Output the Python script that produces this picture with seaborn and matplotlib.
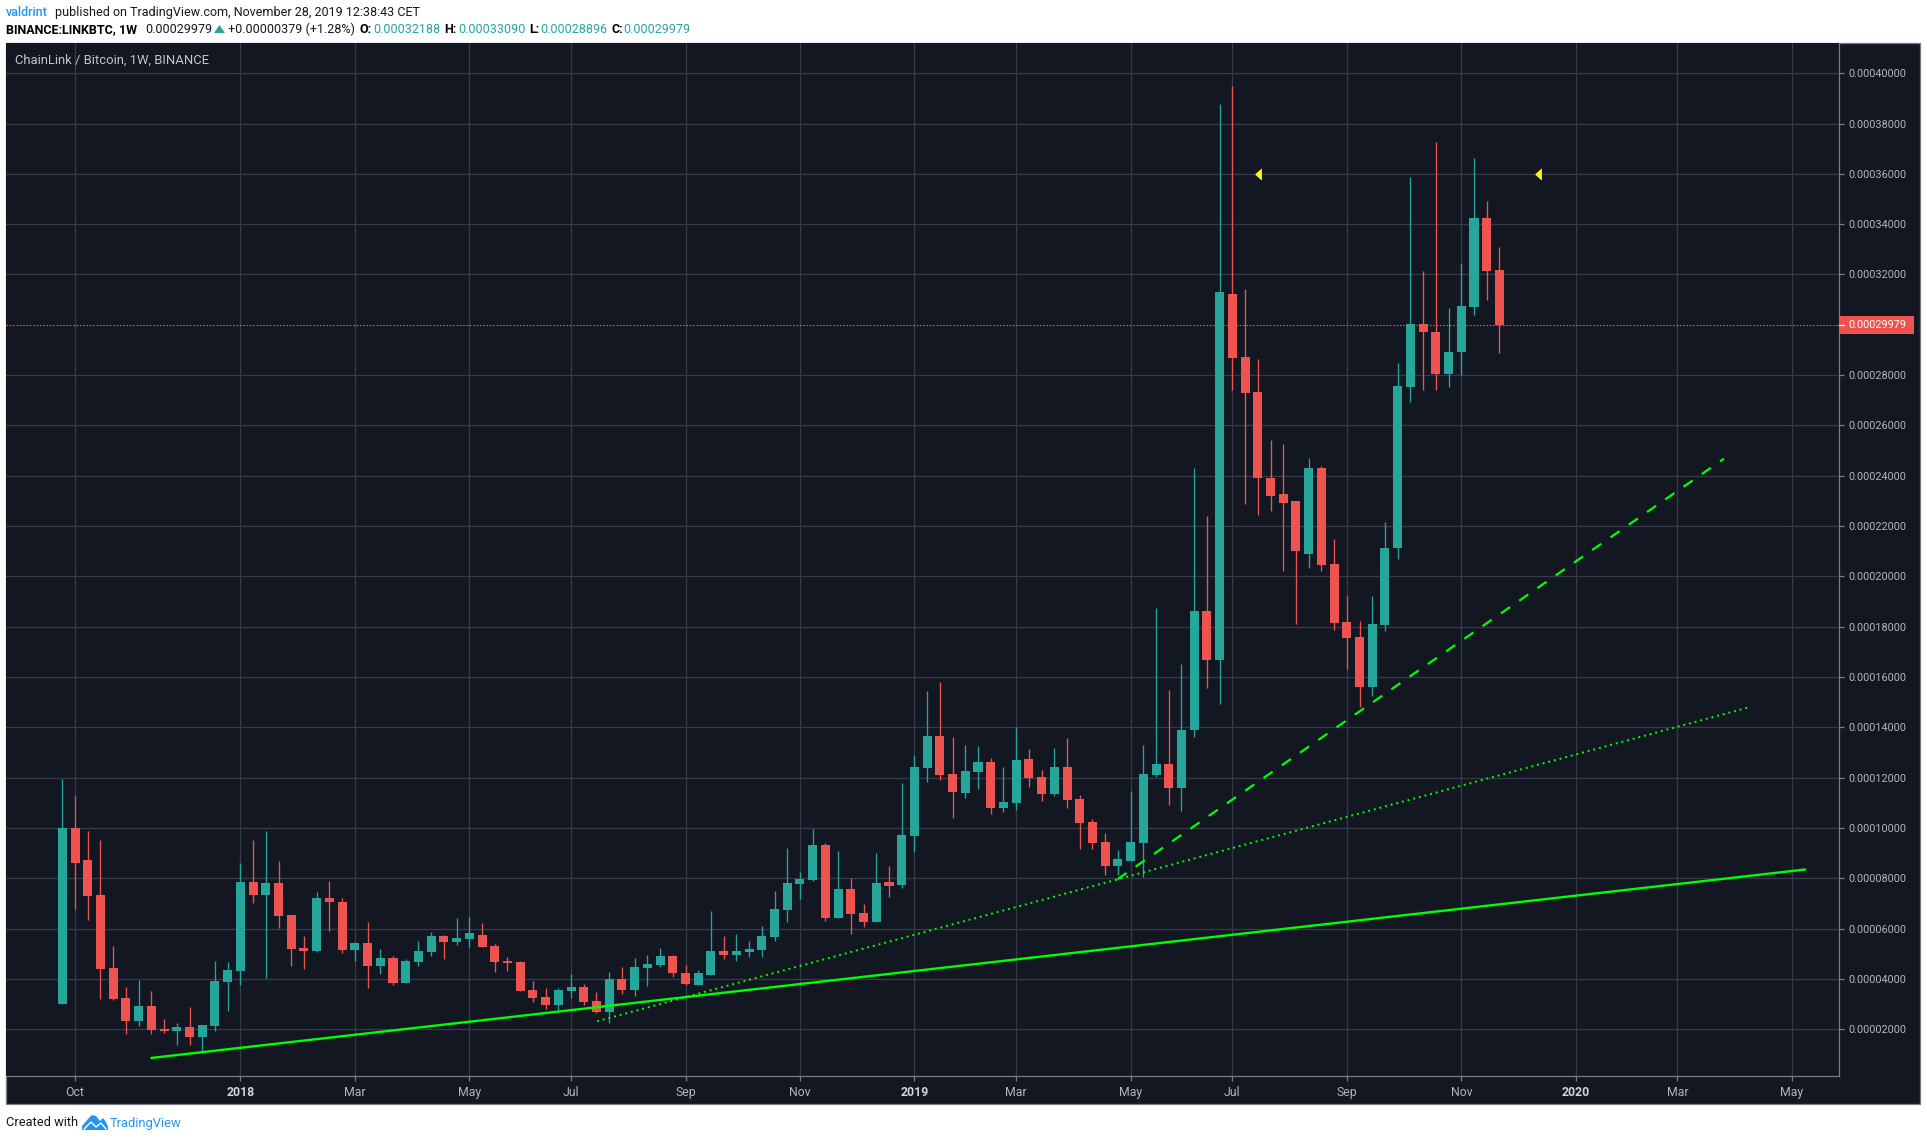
#!/usr/bin/env python3
import matplotlib
matplotlib.use('Agg')
import matplotlib.pyplot as plt
import numpy as np
import pandas as pd
import seaborn as sns
from matplotlib.lines import Line2D
from matplotlib.patches import Polygon, Rectangle

WIDTH, HEIGHT = 1927, 1141
BG = '#131722'
GRID = '#363a49'
BORDER = '#787b86'
TEXT = '#b2b5be'
UP = '#26a69a'
DOWN = '#ef5350'
TREND = '#00ff00'
BLUE = '#2196f3'
PRICE_UNIT = 1e-5  # the arrays below are in units of 0.00001 BTC

# weekly candles, first one is the week of 25 Sep 2017
opens = [2.99, 9.99, 8.71, 7.32, 4.42, 3.23, 2.31, 2.91, 2.00, 1.92, 2.08, 1.68, 2.12, 3.86, 4.30, 7.84, 7.32, 7.80, 6.53,
         5.22, 5.10, 7.20, 7.04, 5.14, 5.41, 4.50, 4.82, 3.82, 4.66, 5.06, 5.69, 5.45, 5.57, 5.76, 5.32, 4.73, 4.69, 3.57,
         3.30, 2.98, 3.53, 3.69, 3.14, 2.70, 4.01, 3.57, 4.45, 4.57, 4.93, 4.25, 3.77, 4.17, 5.12, 4.96, 5.08, 5.16, 5.68,
         6.75, 7.79, 7.95, 9.34, 6.44, 7.59, 6.63, 6.28, 7.87, 7.73, 9.69, 12.40, 13.67, 12.16, 11.40, 12.24, 12.63, 10.81,
         11.00, 12.75, 12.04, 11.36, 12.44, 11.16, 10.25, 9.45, 8.50, 8.70, 9.41, 12.12, 12.56, 11.60, 13.91, 18.61, 16.66,
         31.23, 28.72, 27.33, 23.91, 23.27, 22.98, 20.89, 24.30, 20.49, 18.18, 17.59, 15.60, 18.06, 21.12, 27.53, 30.04,
         29.72, 28.05, 28.92, 30.71, 34.25, 32.188]
highs = [11.96, 11.26, 9.87, 9.51, 5.30, 3.67, 3.94, 3.51, 2.39, 2.23, 2.87, 2.16, 4.70, 4.66, 8.59, 9.51, 9.87, 8.67, 6.53,
         5.69, 7.44, 7.88, 7.20, 5.45, 6.25, 5.18, 4.90, 4.78, 5.49, 5.85, 5.73, 6.41, 6.45, 6.24, 5.40, 4.89, 4.73, 3.93,
         3.65, 3.65, 4.21, 3.81, 3.49, 4.29, 4.49, 4.85, 4.96, 5.24, 4.96, 4.57, 4.37, 6.71, 5.72, 5.80, 5.52, 6.12, 7.51,
         9.22, 8.26, 9.97, 9.42, 9.10, 8.03, 6.99, 9.02, 8.50, 11.78, 12.91, 15.46, 15.81, 13.63, 13.31, 13.27, 12.79, 12.44,
         14.03, 13.15, 12.32, 13.19, 13.59, 11.32, 10.37, 9.81, 9.14, 11.48, 13.31, 18.73, 15.50, 16.53, 24.29, 22.42, 38.78,
         39.50, 31.43, 28.65, 25.42, 25.26, 22.98, 24.70, 24.38, 21.48, 19.22, 18.22, 19.22, 22.16, 28.49, 35.88, 32.14,
         37.27, 30.67, 32.46, 36.63, 34.93, 33.09]
lows = [2.99, 6.77, 6.33, 3.19, 3.15, 1.80, 2.12, 1.80, 1.84, 1.36, 1.36, 1.04, 1.92, 2.71, 3.75, 7.00, 4.02, 6.01, 4.50,
        4.38, 5.06, 5.89, 5.02, 4.70, 3.63, 4.18, 3.75, 3.82, 4.50, 4.90, 4.78, 5.34, 5.26, 5.28, 4.29, 4.33, 3.53, 3.10,
        2.82, 2.74, 3.26, 2.98, 2.66, 2.26, 3.41, 3.34, 3.73, 4.49, 4.09, 3.77, 3.77, 4.17, 4.81, 4.73, 4.89, 4.89, 5.52,
        6.28, 7.19, 7.91, 6.32, 6.44, 5.80, 6.08, 6.28, 7.27, 7.61, 9.06, 11.84, 11.92, 10.41, 11.20, 11.56, 10.57, 10.65,
        10.73, 11.64, 11.08, 11.28, 10.81, 9.18, 9.18, 8.14, 8.14, 8.70, 8.06, 12.04, 10.93, 10.69, 13.63, 15.55, 14.91,
        27.41, 22.86, 22.46, 22.60, 20.21, 18.09, 20.33, 20.21, 17.86, 16.31, 14.80, 15.24, 17.82, 20.69, 26.94, 27.41,
        27.41, 27.53, 28.01, 30.39, 30.99, 28.896]
closes = [9.99, 8.59, 7.28, 4.38, 3.19, 2.31, 2.91, 1.96, 1.92, 2.08, 1.68, 2.16, 3.90, 4.34, 7.84, 7.32, 7.80, 6.49, 5.18,
          5.10, 7.20, 7.04, 5.14, 5.41, 4.50, 4.82, 3.82, 4.70, 5.10, 5.69, 5.45, 5.61, 5.81, 5.28, 4.69, 4.65, 3.53, 3.26,
          2.98, 3.57, 3.69, 3.10, 2.70, 4.01, 3.57, 4.49, 4.61, 4.93, 4.25, 3.81, 4.25, 5.12, 4.96, 5.12, 5.20, 5.72, 6.79,
          7.83, 7.99, 9.34, 6.44, 7.59, 6.59, 6.28, 7.83, 7.71, 9.72, 12.44, 13.67, 12.12, 11.44, 12.28, 12.63, 10.81, 11.04,
          12.71, 12.00, 11.36, 12.44, 11.12, 10.21, 9.41, 8.50, 8.78, 9.45, 12.16, 12.56, 11.60, 13.91, 18.61, 16.66, 31.31,
          28.68, 27.29, 23.93, 23.19, 22.91, 20.99, 24.30, 20.45, 18.14, 17.55, 15.60, 18.10, 21.12, 27.57, 30.04, 29.72,
          28.05, 28.92, 30.75, 34.25, 32.14, 29.979]

# trend lines: (week, price) pairs at both ends
solid_weeks, solid_prices = [7.0, 137.04], [0.86, 8.35]
dotted_weeks, dotted_prices = [42.05, 132.7], [2.32, 14.81]
dashed_weeks, dashed_prices = [82.96, 130.66], [7.96, 24.68]
marker_weeks, marker_prices = [94.0, 116.04], [36.0, 36.0]

x_tick_weeks = [1, 14, 23, 32, 40, 49, 58, 67, 75, 84, 92, 101, 110, 119, 127, 136]
x_tick_labels = ['Oct', '2018', 'Mar', 'May', 'Jul', 'Sep', 'Nov', '2019', 'Mar', 'May', 'Jul', 'Sep', 'Nov', '2020',
                 'Mar', 'May']
y_tick_values = [2, 4, 6, 8, 10, 12, 14, 16, 18, 20, 22, 24, 26, 28, 32, 34, 36, 38, 40]
last_close = 29.979


def px_text(px, py, text, **kwargs):
    kwargs.setdefault('va', 'center')
    fig.text(px / WIDTH, 1 - py / HEIGHT, text, **kwargs)


sns.set_theme(style='dark', rc={'axes.facecolor': BG})
plt.rcParams['font.family'] = ['Roboto', 'DejaVu Sans']

fig = plt.figure(figsize=(WIDTH / 100, HEIGHT / 100), dpi=100, facecolor='white')

# outer frame which also holds the price and time scales
fig.add_artist(Rectangle((6 / WIDTH, 1 - 1104 / HEIGHT), 1914 / WIDTH, 1061 / HEIGHT, transform=fig.transFigure,
                         facecolor=BG, edgecolor=BORDER, linewidth=0.9, zorder=-1))
ax = fig.add_axes([6 / WIDTH, 1 - 1076 / HEIGHT, 1833 / WIDTH, 1033 / HEIGHT])

candles = pd.DataFrame({'week': np.arange(len(opens)), 'open': opens, 'high': highs, 'low': lows, 'close': closes})
candles[['open', 'high', 'low', 'close']] *= PRICE_UNIT
candles['body'] = (candles['close'] - candles['open']).abs()
candles['bottom'] = candles[['open', 'close']].min(axis=1)
rising = candles[candles['close'] >= candles['open']]
falling = candles[candles['close'] < candles['open']]

wick_colors = [UP if c >= o else DOWN for o, c in zip(opens, closes)]
ax.vlines(candles['week'], candles['low'], candles['high'], colors=wick_colors, linewidth=0.95)
for part, color in ((rising, UP), (falling, DOWN)):
    sns.barplot(data=part, x='week', y='body', bottom=part['bottom'].values, color=color, native_scale=True,
                width=0.71, saturation=1, errorbar=None, linewidth=0, ax=ax)

# last price line and its tag on the scale
ax.axhline(last_close * PRICE_UNIT, color=DOWN, linewidth=0.8, linestyle=(0, (1.5, 1.5)), zorder=3)
ax.add_patch(Rectangle((1.0, (last_close - 0.352) * PRICE_UNIT), 0.0409, 0.704 * PRICE_UNIT, facecolor=DOWN,
                       linewidth=0, transform=ax.get_yaxis_transform(), clip_on=False, zorder=4))
ax.text(1.0051, last_close * PRICE_UNIT, f'{last_close * PRICE_UNIT:.8f}', color='white', fontsize=7.8, va='center',
        transform=ax.get_yaxis_transform(), clip_on=False, zorder=5)
ax.add_artist(Line2D([1.0, 1.0027], [last_close * PRICE_UNIT] * 2, color='white', linewidth=0.9,
                     transform=ax.get_yaxis_transform(), clip_on=False, zorder=5))

sns.lineplot(x=solid_weeks, y=np.array(solid_prices) * PRICE_UNIT, color=TREND, linewidth=1.7, errorbar=None, ax=ax,
             zorder=6)
sns.lineplot(x=dotted_weeks, y=np.array(dotted_prices) * PRICE_UNIT, color=TREND, linewidth=1.4,
             linestyle=(0, (1, 2)), errorbar=None, ax=ax, zorder=6)
sns.lineplot(x=dashed_weeks, y=np.array(dashed_prices) * PRICE_UNIT, color=TREND, linewidth=1.6,
             linestyle=(0, (5, 5)), errorbar=None, ax=ax, zorder=6)
sns.scatterplot(x=marker_weeks, y=np.array(marker_prices) * PRICE_UNIT, color='#ffff00', s=78, linewidth=0,
                marker=[(-0.55, 0), (0.55, 1), (0.55, -1)], ax=ax, zorder=6)

ax.set_xlim(-4.43, 139.7)
ax.set_ylim(0.143 * PRICE_UNIT, 41.2 * PRICE_UNIT)
ax.set_xlabel('')
ax.set_ylabel('')
ax.set_xticks(x_tick_weeks)
ax.set_xticklabels(x_tick_labels)
ax.set_yticks([v * PRICE_UNIT for v in y_tick_values])
ax.set_yticklabels([f'{v * PRICE_UNIT:.8f}' for v in y_tick_values])
ax.yaxis.tick_right()
ax.grid(True, color=GRID, linewidth=0.95)
ax.set_axisbelow(True)
ax.tick_params(axis='both', length=3.8, width=0.9, color=BORDER, labelcolor=TEXT, labelsize=7.8, pad=3, bottom=True,
               right=True)
ax.tick_params(axis='x', pad=3.5, labelsize=8.8)
for label in ax.get_xticklabels():
    if label.get_text().isdigit():
        label.set_color('#d1d4dc')
        label.set_fontweight('bold')
for side in ('top', 'left'):
    ax.spines[side].set_visible(False)
for side in ('right', 'bottom'):
    ax.spines[side].set_visible(True)
    ax.spines[side].set_color(BORDER)
    ax.spines[side].set_linewidth(0.9)

# header above the chart
px_text(6, 12.7, 'valdrint', color=BLUE, fontsize=9, fontweight='medium')
px_text(55, 12.7, 'published on TradingView.com, November 28, 2019 12:38:43 CET', color='#131722', fontsize=9)
line2 = [(6, 'BINANCE:LINKBTC, 1W', 'black', 'bold'), (145, '0.00029979', '#131722', 'normal'),
         (228, '+0.00000379 (+1.28%)', '#131722', 'normal'), (360, 'O:', 'black', 'bold'),
         (373, '0.00032188', UP, 'normal'), (444, 'H:', 'black', 'bold'), (458, '0.00033090', UP, 'normal'),
         (529, 'L:', 'black', 'bold'), (540, '0.00028896', UP, 'normal'), (611.5, 'C:', 'black', 'bold'),
         (623, '0.00029979', UP, 'normal')]
for px, text, color, weight in line2:
    px_text(px, 29.3, text, color=color, fontweight=weight, fontsize=9)
fig.add_artist(Polygon([(214 / WIDTH, 1 - 33 / HEIGHT), (225 / WIDTH, 1 - 33 / HEIGHT), (219.5 / WIDTH, 1 - 25 / HEIGHT)],
                       transform=fig.transFigure, facecolor=UP, linewidth=0))
px_text(15, 60.7, 'ChainLink / Bitcoin, 1W, BINANCE', color='#c2c5cc', fontsize=9.4)

# footer with the logo
px_text(6, 1123, 'Created with', color='#131722', fontsize=9.3)
px_text(110, 1123, 'TradingView', color=BLUE, fontsize=9.3)
logo = [(82, 1130), (82, 1126), (88, 1119), (92, 1115), (96, 1116), (100, 1121), (103, 1118), (106, 1122), (108, 1127),
        (108, 1130)]
fig.add_artist(Polygon([(x / WIDTH, 1 - y / HEIGHT) for x, y in logo], transform=fig.transFigure, facecolor=BLUE,
                       linewidth=0))
fig.add_artist(Line2D([x / WIDTH for x in (84, 91, 96, 101, 106)], [1 - y / HEIGHT for y in (1129, 1122, 1127, 1123, 1129)],
                      color='white', linewidth=1.0, transform=fig.transFigure))

fig.savefig('out.png', dpi=100, facecolor='white')
